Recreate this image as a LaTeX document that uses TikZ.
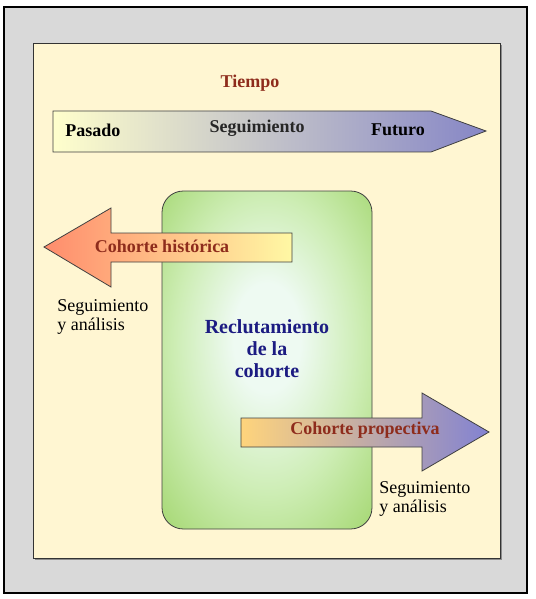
\documentclass[tikz,border=0pt]{standalone}
\usepackage{fontspec}
\setmainfont{Liberation Serif}
\usetikzlibrary{calc}

\definecolor{pagegrey}{HTML}{D9D9D9}
\definecolor{panelcream}{HTML}{FFF6D2}
\definecolor{timered}{HTML}{8E2C1C}
\definecolor{navytext}{HTML}{1C1C82}
\definecolor{pastyellow}{HTML}{FFFFCC}
\definecolor{followgrey}{HTML}{C4C4BC}
\definecolor{futureblue}{HTML}{8686C6}
\definecolor{boxlight}{HTML}{EEFAF2}
\definecolor{boxmid}{HTML}{CDEDB4}
\definecolor{boxgreen}{HTML}{A6D874}
\definecolor{salmon}{HTML}{FF8C6C}
\definecolor{paleyellow}{HTML}{FFF8A4}
\definecolor{warmyellow}{HTML}{FFD47C}
\definecolor{prospblue}{HTML}{8282D2}

\pgfdeclareradialshading{boxglow}{\pgfpoint{0bp}{4bp}}{%
  color(0bp)=(boxlight); color(8bp)=(boxlight); color(22bp)=(boxmid); color(36bp)=(boxgreen); color(50bp)=(boxgreen)}

\begin{document}
\begin{tikzpicture}[x=0.75pt, y=-0.75pt,
    boldtext/.style={font=\bfseries\fontsize{13.5}{15}\selectfont, inner sep=0pt},
    plaintext/.style={font=\fontsize{13.5}{14.25}\selectfont, align=left, inner sep=0pt, anchor=north west}]
        \useasboundingbox (0,0) rectangle (535,599);

        % Page and panel
        \fill[white] (0,0) rectangle (535,599);
        \draw[fill=pagegrey, line width=0.8pt] (4,7) rectangle (527,593);
        \fill[black!45] (35,45) rectangle (502,560);
        \draw[fill=panelcream, line width=0.6pt, draw=black!80] (33,43) rectangle (500,558);

        % Time line arrow
        \shadedraw[left color=pastyellow, middle color=followgrey, right color=futureblue, draw=black!75, line width=0.6pt]
            (53,111) -- (431,111) -- (486,131) -- (431,152) -- (53,152) -- cycle;
        \node[boldtext, text=timered] (tiempo) at (250,83) {Tiempo};
        \node[boldtext, anchor=west] (pasado) at (65,130) {Pasado};
        \node[boldtext, text=black!85] (seguimiento) at (257,128) {Seguimiento};
        \node[boldtext] (futuro) at (398,130) {Futuro};

        % Recruitment box
        \shadedraw[shading=boxglow, rounded corners=16, draw=black!75, line width=0.6pt]
            (162,191) rectangle (372,529);

        % Historic cohort arrow
        \shadedraw[left color=salmon, right color=paleyellow, draw=black!75, line width=0.6pt]
            (44,247) -- (111,208) -- (111,233) -- (292,233) -- (292,262) -- (111,262) -- (111,287) -- cycle;
        \node[boldtext, text=timered] (historica) at (162,246) {Cohorte histórica};

        % Prospective cohort arrow
        \shadedraw[left color=warmyellow, middle color=prospblue!70!warmyellow, right color=prospblue, draw=black!75, line width=0.6pt]
            (241,418) -- (422,418) -- (422,393) -- (489,432) -- (422,471) -- (422,447) -- (241,447) -- cycle;
        \node[boldtext, text=timered] (prospectiva) at (365,430) {Cohorte propectiva};

        % Box label
        \node[boldtext, text=navytext, align=center, font=\bfseries\fontsize{15}{16.5}\selectfont] (reclutamiento) at (267,349)
            {Reclutamiento\\de la\\cohorte};

        % Follow-up notes
        \node[plaintext] (analisisleft) at (57,299) {Seguimiento\\y análisis};
        \node[plaintext] (analisisright) at (379,481) {Seguimiento\\y análisis};

      \end{tikzpicture}
\end{document}
